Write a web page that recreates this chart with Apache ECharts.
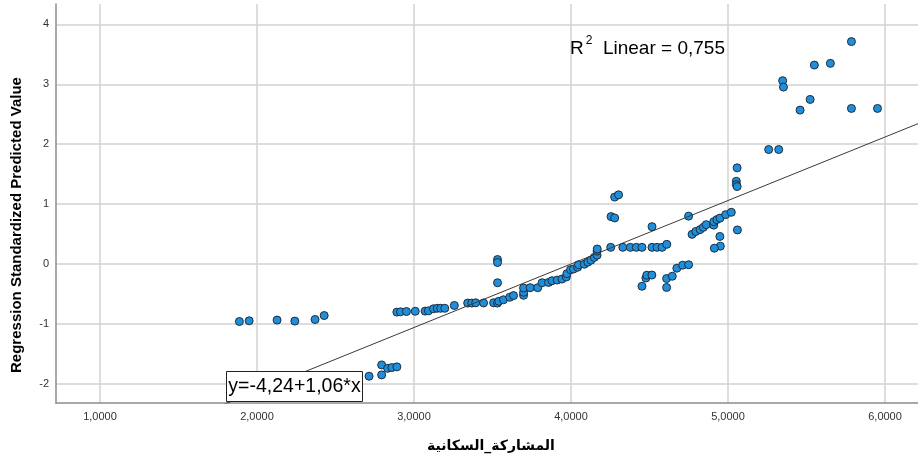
<!DOCTYPE html>
<html>
<head>
<meta charset="utf-8">
<script src="https://cdn.jsdelivr.net/npm/echarts@6/dist/echarts.min.js"></script>
<style>
html,body{margin:0;padding:0;background:#fff;}
#chart{width:918px;height:460px;}
</style>
</head>
<body>
<div id="chart"></div>
<script>
// ---- data ----
const xValues = [
  1.888, 1.950, 2.128, 2.241, 2.370, 2.428,
  2.714, 2.794, 2.794, 2.832, 2.859, 2.891,
  2.891, 2.914, 2.952, 3.008, 3.071, 3.092, 3.124, 3.148, 3.170, 3.196,
  3.257, 3.342, 3.368, 3.393, 3.443, 3.507, 3.532, 3.540, 3.570, 3.610,
  3.634, 3.698, 3.698, 3.698, 3.740, 3.788, 3.816, 3.857, 3.879, 3.912,
  3.942, 3.970, 3.974, 3.997, 4.016, 4.042, 4.048, 4.085, 4.107, 4.127,
  4.148, 4.166, 4.166, 4.167,
  3.532, 3.532, 3.532,
  4.253, 4.330, 4.378, 4.416, 4.452, 4.516, 4.548, 4.580, 4.610,
  4.255, 4.278, 4.278, 4.303, 4.516,
  4.452, 4.477, 4.483, 4.515, 4.609, 4.609, 4.645, 4.674, 4.711, 4.749,
  4.749, 4.771, 4.795, 4.822, 4.843, 4.861, 4.909, 4.909, 4.929, 4.949,
  4.985, 5.021, 4.948, 4.951, 4.913, 5.060,
  5.058, 5.053, 5.053, 5.058,
  5.259, 5.323, 5.348, 5.353, 5.459, 5.523, 5.550, 5.652, 5.786, 5.786, 5.952
];
const yValues = [
  -0.960, -0.948, -0.936, -0.953, -0.926, -0.860,
  -1.873, -1.684, -1.851, -1.742, -1.729, -1.717,
  -0.803, -0.798, -0.793, -0.789, -0.786, -0.781, -0.747, -0.739, -0.739, -0.739,
  -0.692, -0.652, -0.652, -0.647, -0.650, -0.647, -0.652, -0.622, -0.597, -0.555,
  -0.527, -0.522, -0.472, -0.401, -0.396, -0.396, -0.313, -0.308, -0.279, -0.268,
  -0.251, -0.217, -0.162, -0.095, -0.084, -0.054, -0.012, -0.003, 0.030, 0.064,
  0.110, 0.147, 0.214, 0.251,
  0.075, 0.025, -0.313,
  0.278, 0.278, 0.278, 0.278, 0.278, 0.278, 0.278, 0.278, 0.328,
  0.791, 0.769, 1.117, 1.154, 0.624,
  -0.371, -0.234, -0.187, -0.184, -0.391, -0.242, -0.204, -0.070, -0.020, -0.012,
  0.799, 0.495, 0.543, 0.574, 0.612, 0.657, 0.649, 0.707, 0.741, 0.766,
  0.824, 0.863, 0.460, 0.298, 0.264, 0.569,
  1.605, 1.381, 1.326, 1.293,
  1.911, 1.911, 3.060, 2.953, 2.569, 2.747, 3.321, 3.349, 3.712, 2.597, 2.597
];
const xTicks = [1, 2, 3, 4, 5, 6];
const yTicks = [-2, -1, 0, 1, 2, 3, 4];
const xRange = [0.72, 6.21];
const yRange = [-2.32, 4.34];
const fitIntercept = -4.24;
const fitSlope = 1.06;
const rSquared = '0,755';
const xTitle = 'المشاركة_السكانية';
const yTitle = 'Regression Standardized Predicted Value';

// ---- build ----
const points = xValues.map((x, i) => [x, yValues[i]]);
const fitLine = [xRange[0], xRange[1]].map(x => [x, fitIntercept + fitSlope * x]);
const fmtNum = v => v.toFixed(2).replace('.', ',');
const FONT = "'Liberation Sans', Arial, 'DejaVu Sans', sans-serif";

const chart = echarts.init(document.getElementById('chart'), null, {renderer: 'canvas'});
chart.setOption({
  animation: false,
  backgroundColor: '#ffffff',
  grid: {left: 56, right: 0, top: 4, bottom: 57, containLabel: false},
  xAxis: {
    type: 'value', min: xRange[0], max: xRange[1],
    axisLine: {show: true, onZero: false, lineStyle: {color: '#8c8c8c', width: 1.5}},
    axisTick: {show: false, customValues: xTicks},
    axisLabel: {customValues: xTicks, formatter: v => v.toFixed(4).replace('.', ','),
      color: '#333', fontSize: 11, fontFamily: FONT, margin: 8},
    splitLine: {show: true, lineStyle: {color: '#d2d2d2', width: 1.5}}
  },
  yAxis: {
    type: 'value', min: yRange[0], max: yRange[1],
    axisLine: {show: true, onZero: false, lineStyle: {color: '#8c8c8c', width: 1.5}},
    axisTick: {show: false, customValues: yTicks},
    axisLabel: {customValues: yTicks, formatter: v => String(v),
      color: '#333', fontSize: 11, fontFamily: FONT, margin: 7},
    splitLine: {show: true, lineStyle: {color: '#d2d2d2', width: 1.5}}
  },
  series: [
    {
      type: 'scatter', data: points, symbol: 'circle', symbolSize: 8,
      itemStyle: {color: '#1f8fdc', borderColor: '#1d2d3d', borderWidth: 1, opacity: 1},
      z: 2
    },
    {
      type: 'line', data: fitLine, showSymbol: false, symbol: 'none', clip: true,
      lineStyle: {color: '#3a3a3a', width: 1}, z: 3, silent: true
    }
  ],
  graphic: [
    {
      type: 'text', left: 570, top: 35, z: 100,
      style: {
        text: '{r|R}{s|2}{r|  Linear = ' + rSquared + '}',
        rich: {
          r: {fontSize: 19, fontFamily: FONT, fill: '#000', verticalAlign: 'bottom', lineHeight: 23},
          s: {fontSize: 12, fontFamily: FONT, fill: '#000', verticalAlign: 'top', lineHeight: 23, padding: [0, 0, 8, 2]}
        }
      }
    },
    {
      type: 'rect', z: 100, shape: {x: 226.5, y: 371.5, width: 136, height: 30},
      style: {fill: '#fff', stroke: '#222', lineWidth: 1}
    },
    {
      type: 'text', x: 294.5, y: 386.5, z: 101,
      style: {text: 'y=' + fmtNum(fitIntercept) + '+' + fmtNum(fitSlope) + '*x',
        fontSize: 19.5, fontFamily: FONT, fill: '#000', align: 'center', verticalAlign: 'middle'}
    },
    {
      type: 'text', x: 17, y: 225, rotation: Math.PI / 2, z: 100,
      style: {text: yTitle, fontSize: 15, fontWeight: 'bold', fontFamily: FONT, fill: '#000',
        align: 'center', verticalAlign: 'middle'}
    },
    {
      type: 'text', x: 491, y: 446, z: 100,
      style: {text: xTitle, fontSize: 14, fontWeight: 'bold', fontFamily: "'DejaVu Sans', 'Noto Sans', sans-serif", fill: '#000',
        align: 'center', verticalAlign: 'middle'}
    }
  ]
});
</script>
</body>
</html>
